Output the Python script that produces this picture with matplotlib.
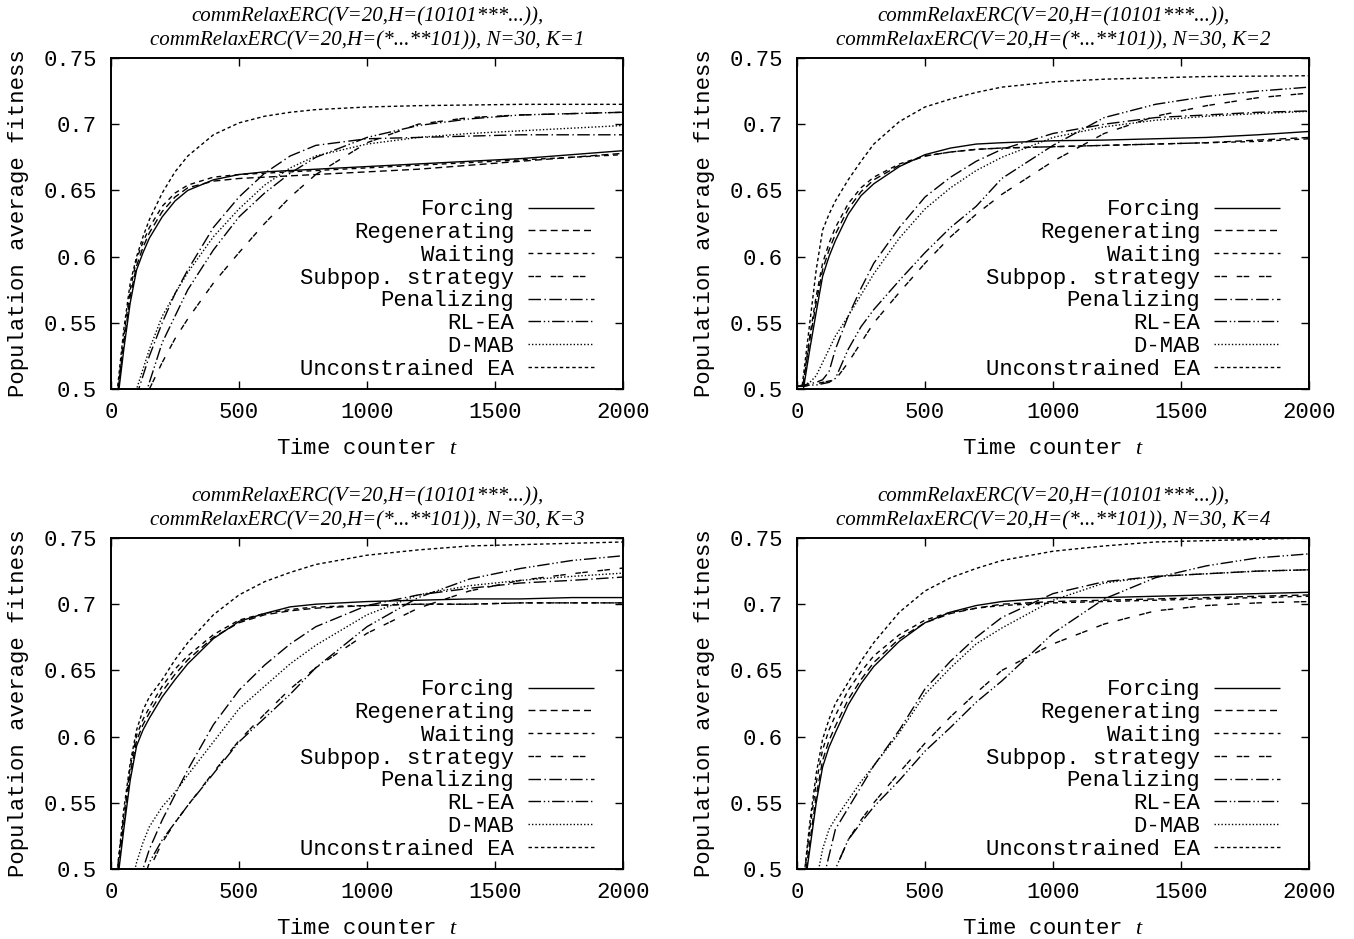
import numpy as np
import matplotlib
matplotlib.use("Agg")
import matplotlib.pyplot as plt
import matplotlib.transforms as mtransforms
from matplotlib.font_manager import FontProperties

plt.rcParams['mathtext.fontset'] = 'custom'
plt.rcParams['mathtext.it'] = 'Liberation Serif:italic'
plt.rcParams['mathtext.rm'] = 'Liberation Serif'

# ---------------- data ----------------
t = [0, 25, 50, 75, 100, 125, 150, 200, 250, 300, 400, 500, 600, 700, 800,
     1000, 1200, 1400, 1600, 1800, 2000]

series_names = ["Forcing", "Regenerating", "Waiting", "Subpop. strategy",
                "Penalizing", "RL-EA", "D-MAB", "Unconstrained EA"]

k1_forcing = [0.46, 0.49, 0.53, 0.565, 0.59, 0.603, 0.614, 0.630, 0.642, 0.650, 0.658, 0.662, 0.664, 0.665, 0.666, 0.668, 0.670, 0.672, 0.674, 0.677, 0.680]
k1_regen   = [0.46, 0.495, 0.535, 0.57, 0.593, 0.607, 0.618, 0.634, 0.645, 0.652, 0.657, 0.659, 0.660, 0.661, 0.662, 0.664, 0.666, 0.669, 0.672, 0.675, 0.678]
k1_waiting = [0.46, 0.495, 0.54, 0.575, 0.598, 0.611, 0.622, 0.638, 0.648, 0.654, 0.660, 0.662, 0.663, 0.664, 0.665, 0.667, 0.669, 0.671, 0.673, 0.675, 0.677]
k1_subpop  = [0.44, 0.45, 0.46, 0.47, 0.48, 0.49, 0.500, 0.520, 0.538, 0.553, 0.580, 0.603, 0.625, 0.645, 0.662, 0.686, 0.700, 0.705, 0.707, 0.708, 0.709]
k1_penal   = [0.45, 0.46, 0.47, 0.48, 0.495, 0.51, 0.525, 0.55, 0.572, 0.590, 0.622, 0.645, 0.663, 0.676, 0.684, 0.689, 0.690, 0.691, 0.692, 0.692, 0.692]
k1_rlea    = [0.44, 0.45, 0.46, 0.47, 0.48, 0.49, 0.505, 0.535, 0.555, 0.575, 0.605, 0.630, 0.648, 0.663, 0.675, 0.690, 0.699, 0.704, 0.707, 0.708, 0.709]
k1_dmab    = [0.45, 0.46, 0.47, 0.48, 0.50, 0.515, 0.530, 0.555, 0.572, 0.588, 0.615, 0.636, 0.654, 0.667, 0.676, 0.685, 0.690, 0.693, 0.695, 0.697, 0.699]
k1_uncon   = [0.46, 0.50, 0.545, 0.58, 0.600, 0.615, 0.628, 0.648, 0.664, 0.676, 0.692, 0.701, 0.706, 0.709, 0.711, 0.713, 0.714, 0.7145, 0.715, 0.715, 0.715]

k2_forcing = [0.47, 0.50, 0.53, 0.558, 0.585, 0.600, 0.612, 0.632, 0.646, 0.655, 0.668, 0.677, 0.682, 0.685, 0.686, 0.6875, 0.688, 0.689, 0.690, 0.692, 0.6945]
k2_regen   = [0.47, 0.505, 0.537, 0.565, 0.590, 0.605, 0.617, 0.636, 0.649, 0.658, 0.669, 0.676, 0.679, 0.681, 0.682, 0.683, 0.684, 0.685, 0.686, 0.688, 0.690]
k2_waiting = [0.47, 0.505, 0.54, 0.57, 0.595, 0.610, 0.622, 0.640, 0.652, 0.660, 0.670, 0.676, 0.679, 0.681, 0.682, 0.683, 0.684, 0.685, 0.686, 0.687, 0.689]
k2_subpop  = [0.502, 0.502, 0.503, 0.504, 0.505, 0.506, 0.507, 0.520, 0.535, 0.550, 0.573, 0.595, 0.615, 0.632, 0.647, 0.672, 0.693, 0.706, 0.714, 0.720, 0.7235]
k2_penal   = [0.502, 0.503, 0.504, 0.505, 0.507, 0.513, 0.530, 0.555, 0.576, 0.595, 0.622, 0.645, 0.660, 0.672, 0.681, 0.693, 0.700, 0.705, 0.707, 0.709, 0.710]
k2_rlea    = [0.502, 0.502, 0.503, 0.503, 0.504, 0.505, 0.508, 0.530, 0.547, 0.560, 0.582, 0.603, 0.622, 0.638, 0.659, 0.684, 0.705, 0.715, 0.721, 0.725, 0.728]
k2_dmab    = [0.502, 0.503, 0.505, 0.510, 0.520, 0.530, 0.540, 0.555, 0.571, 0.587, 0.614, 0.636, 0.652, 0.665, 0.675, 0.690, 0.698, 0.703, 0.706, 0.708, 0.7097]
k2_uncon   = [0.47, 0.51, 0.55, 0.59, 0.620, 0.632, 0.642, 0.658, 0.672, 0.685, 0.702, 0.713, 0.719, 0.724, 0.728, 0.732, 0.734, 0.735, 0.736, 0.7363, 0.7366]

k3_forcing = [0.45, 0.49, 0.53, 0.567, 0.593, 0.605, 0.614, 0.630, 0.643, 0.655, 0.674, 0.687, 0.693, 0.698, 0.700, 0.702, 0.703, 0.704, 0.704, 0.705, 0.705]
k3_regen   = [0.45, 0.495, 0.535, 0.572, 0.597, 0.609, 0.618, 0.634, 0.647, 0.658, 0.675, 0.686, 0.692, 0.695, 0.697, 0.699, 0.700, 0.700, 0.701, 0.701, 0.701]
k3_waiting = [0.45, 0.50, 0.54, 0.577, 0.601, 0.613, 0.622, 0.638, 0.651, 0.661, 0.677, 0.688, 0.693, 0.696, 0.698, 0.699, 0.700, 0.700, 0.701, 0.701, 0.701]
k3_subpop  = [0.44, 0.45, 0.46, 0.47, 0.48, 0.49, 0.50, 0.520, 0.535, 0.548, 0.573, 0.597, 0.617, 0.636, 0.652, 0.678, 0.697, 0.710, 0.718, 0.723, 0.7273]
k3_penal   = [0.44, 0.45, 0.46, 0.47, 0.485, 0.50, 0.515, 0.537, 0.556, 0.575, 0.609, 0.635, 0.654, 0.670, 0.683, 0.699, 0.707, 0.712, 0.716, 0.718, 0.7205]
k3_rlea    = [0.44, 0.45, 0.46, 0.47, 0.48, 0.49, 0.505, 0.522, 0.535, 0.548, 0.572, 0.596, 0.614, 0.632, 0.652, 0.683, 0.705, 0.719, 0.727, 0.733, 0.7366]
k3_dmab    = [0.45, 0.46, 0.47, 0.485, 0.505, 0.520, 0.532, 0.547, 0.558, 0.571, 0.596, 0.621, 0.638, 0.655, 0.669, 0.692, 0.707, 0.714, 0.718, 0.721, 0.7235]
k3_uncon   = [0.45, 0.50, 0.545, 0.58, 0.605, 0.620, 0.630, 0.643, 0.658, 0.671, 0.692, 0.707, 0.717, 0.724, 0.730, 0.737, 0.741, 0.744, 0.745, 0.746, 0.747]

k4_forcing = [0.45, 0.48, 0.515, 0.55, 0.577, 0.592, 0.603, 0.624, 0.640, 0.653, 0.672, 0.686, 0.694, 0.699, 0.702, 0.705, 0.705, 0.706, 0.707, 0.708, 0.709]
k4_regen   = [0.45, 0.485, 0.52, 0.555, 0.582, 0.597, 0.608, 0.628, 0.643, 0.656, 0.674, 0.686, 0.693, 0.697, 0.700, 0.702, 0.703, 0.704, 0.705, 0.706, 0.707]
k4_waiting = [0.45, 0.49, 0.53, 0.565, 0.590, 0.605, 0.616, 0.635, 0.649, 0.661, 0.677, 0.688, 0.694, 0.697, 0.699, 0.701, 0.702, 0.703, 0.704, 0.705, 0.706]
k4_subpop  = [0.44, 0.45, 0.46, 0.47, 0.48, 0.49, 0.50, 0.522, 0.537, 0.550, 0.573, 0.595, 0.615, 0.633, 0.650, 0.670, 0.685, 0.695, 0.699, 0.701, 0.702]
k4_penal   = [0.44, 0.45, 0.46, 0.47, 0.49, 0.51, 0.53, 0.546, 0.562, 0.578, 0.605, 0.636, 0.657, 0.675, 0.690, 0.708, 0.717, 0.721, 0.723, 0.725, 0.726]
k4_rlea    = [0.44, 0.45, 0.46, 0.47, 0.47, 0.48, 0.50, 0.522, 0.535, 0.547, 0.567, 0.589, 0.607, 0.626, 0.642, 0.678, 0.704, 0.720, 0.729, 0.735, 0.738]
k4_dmab    = [0.45, 0.46, 0.47, 0.49, 0.515, 0.530, 0.538, 0.552, 0.566, 0.578, 0.603, 0.632, 0.652, 0.670, 0.682, 0.703, 0.716, 0.721, 0.723, 0.725, 0.726]
k4_uncon   = [0.45, 0.49, 0.535, 0.572, 0.598, 0.613, 0.625, 0.641, 0.657, 0.671, 0.694, 0.710, 0.720, 0.727, 0.733, 0.740, 0.744, 0.747, 0.748, 0.749, 0.750]

panels_data = [
    [k1_forcing, k1_regen, k1_waiting, k1_subpop, k1_penal, k1_rlea, k1_dmab, k1_uncon],
    [k2_forcing, k2_regen, k2_waiting, k2_subpop, k2_penal, k2_rlea, k2_dmab, k2_uncon],
    [k3_forcing, k3_regen, k3_waiting, k3_subpop, k3_penal, k3_rlea, k3_dmab, k3_uncon],
    [k4_forcing, k4_regen, k4_waiting, k4_subpop, k4_penal, k4_rlea, k4_dmab, k4_uncon],
]
k_values = [1, 2, 3, 4]

x_ticks = [0, 500, 1000, 1500, 2000]
x_ticklabels = ["0", "500", "1000", "1500", "2000"]
y_ticks = [0.5, 0.55, 0.6, 0.65, 0.7, 0.75]
y_ticklabels = ["0.5", "0.55", "0.6", "0.65", "0.7", "0.75"]

# ---------------- styles ----------------
styles = [
    (0, ()),                        # Forcing: solid
    (0, (5, 3)),                    # Regenerating
    (0, (3.5, 3)),                  # Waiting
    (0, (4, 1, 4, 7)),              # Subpop. strategy
    (0, (9, 2.5, 1, 2.5)),          # Penalizing
    (0, (9, 2, 1, 2, 1, 2)),        # RL-EA
    (0, (1, 1.5)),                  # D-MAB
    (0, (2.5, 2)),                  # Unconstrained EA
]

MONO = 'Liberation Mono'
SERIF = 'Liberation Serif'
FS = 16

fig = plt.figure(figsize=(13.54, 9.39), dpi=100)
W, H = 1354.0, 939.0
lefts = [111, 797, 111, 797]
bottoms = [389, 389, 869, 869]
aw, ah = 512, 331
xoff = mtransforms.ScaledTranslation(5 / 100.0, 0, fig.dpi_scale_trans)

for i in range(4):
    ax = fig.add_axes([lefts[i] / W, 1 - bottoms[i] / H, aw / W, ah / H])
    for name, vals, ls in zip(series_names, panels_data[i], styles):
        ax.plot(t, vals, color='black', lw=1.0, linestyle=ls, label=name)
    ax.set_xlim(0, 2000)
    ax.set_ylim(0.5, 0.75)
    ax.set_xticks(x_ticks)
    ax.set_xticklabels(x_ticklabels, fontfamily=MONO, fontsize=FS)
    for lab in ax.get_xticklabels():
        lab.set_transform(lab.get_transform() + xoff)
    ax.set_yticks(y_ticks)
    ax.set_yticklabels(y_ticklabels, fontfamily=MONO, fontsize=FS)
    ax.tick_params(direction='in', length=6, width=1.0, top=True, right=True,
                   pad=9, colors='black')
    ax.tick_params(axis='y', pad=10)
    for sp in ax.spines.values():
        sp.set_linewidth(1.4)
    ax.set_xlabel("Time counter $t$", fontfamily=MONO, fontsize=FS)
    ax.xaxis.set_label_coords(0.5, -0.148)
    ax.set_ylabel("Population average fitness", fontfamily=MONO, fontsize=FS)
    ax.yaxis.set_label_coords(-0.16, 0.5)
    ax.set_title("commRelaxERC(V=20,H=(10101***...)),\n"
                 "commRelaxERC(V=20,H=(*...**101)), N=30, K=%d" % k_values[i],
                 fontfamily=SERIF, fontstyle='italic', fontsize=15,
                 linespacing=1.3, pad=9)
    leg = ax.legend(loc='lower right', bbox_to_anchor=(0.944, 0.028),
                    frameon=False, markerfirst=False, handlelength=3.0,
                    handletextpad=0.6, labelspacing=0.08, borderpad=0,
                    borderaxespad=0, prop=FontProperties(family=MONO, size=FS))

fig.savefig("out.png", dpi=100)
